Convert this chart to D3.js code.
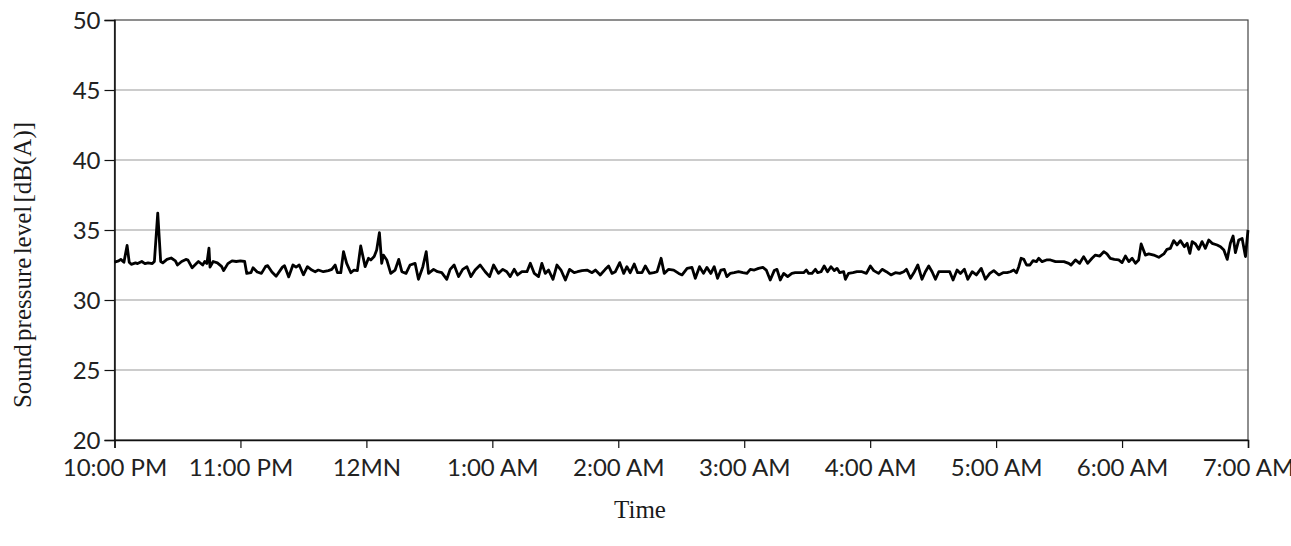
<!DOCTYPE html>
<html>
<head>
<meta charset="utf-8">
<script src="https://cdn.jsdelivr.net/npm/d3@7"></script>
<style>
  body { margin: 0; background: #fff; }
  .tick-label { font-family: Lato, "Open Sans", sans-serif; font-size: 24px; fill: #222; }
  .title { font-family: "Liberation Serif", "Times New Roman", serif; font-size: 25px; fill: #1a1a1a; }
</style>
</head>
<body>
<script>
// minutes after 10:00 PM
const minutes = [0,2,3,4.5,6,7,8,10,11,13,14.5,16,18,19,20.6,22,23,25,27,29,30,32,34,35,37,39,40,42,43,44,45,45.5,47,49,51,52,54,56,58,60,62,63,65,66,68,70,72,73,75,77,80,81,83,85,86.5,88,90,
  91.9,94,95.6,97.1,99.5,101.9,103.5,105.1,106.2,107.8,109.1,110.6,112.6,114.1,115.7,117.3,119.4,121,122.1,123.7,124.9,126.2,127.3,128.1,129.7,131.6,133.7,135.4,136.9,138.9,140.8,143.2,144.8,146.9,148.5,149.6,152,153.9,155.9,158.3,159.9,161.8,163.9,165.9,167.9,169.8,171.8,174.2,176.6,178.7,180.6,182.9,
  185,186.9,188.5,190.4,192,194.1,196.5,198.1,200,202,203.6,205.2,206.8,208.9,210.8,212.7,214.8,216.8,219,220.6,222.7,225.1,227.5,229.1,231.4,233.8,235.4,237,238.6,240.7,242.6,244.1,245.7,247.6,249.2,251.3,252.9,254.9,256.9,258.5,260.4,261.9,264,266.4,268.8,270.4,272.8,
  275.1,276.7,278.7,280.6,282.2,284.1,285.7,287.3,288.9,290.5,291.7,293.3,295.2,297.3,299.4,301.3,302.9,304.8,306.8,308.9,310.5,312.4,314.3,315.6,317.2,318.8,320.7,322.7,324.3,326.4,328.3,329.6,330.7,332.3,333.9,335,336.6,338.1,339.7,341.3,342.9,344.2,345.5,347.4,348.2,349.7,351.8,353.7,356.1,358.2,360.1,361.7,364,
  365.7,367.7,369.9,372,374.1,376,377.3,379.2,381.1,382.7,384.7,386.3,387.9,389.5,391.1,392.7,395.1,397.9,399.5,401.4,403,404.9,406.5,408.6,410.6,412.9,414.9,417,418.9,421.3,423.3,425.2,426.8,428.4,429.7,430.8,431.9,433.2,434.5,436.1,437.6,439.2,440.3,441.9,444,445.9,448.3,449.9,452.3,454.6,
  455.7,457.8,459.8,461.7,463.6,465.7,467.3,469.4,471.3,472.8,474.4,476.3,478.4,480,481.6,483.2,484.8,486.4,487.9,489.1,491.1,492.7,495.1,497.5,499.9,501.4,503,504.6,506.2,507.8,509.7,511,512.3,513.4,515,516.5,518.1,519.7,521.3,522.9,525.3,526.9,528.5,530.1,531.6,532.9,534,535.6,537.2,538.8,540];

// sound pressure level, dB(A)
const spl = [32.7,32.8,32.9,32.7,33.9,32.7,32.55,32.65,32.6,32.75,32.6,32.65,32.6,32.75,36.2,32.75,32.65,32.9,33.0,32.8,32.5,32.75,32.9,32.85,32.3,32.6,32.75,32.5,32.75,32.6,33.7,32.35,32.75,32.65,32.4,32.1,32.6,32.8,32.75,32.8,32.75,31.9,31.95,32.3,32.0,31.9,32.4,32.45,32.0,31.7,32.35,32.45,31.65,32.5,32.35,32.5,31.8,
  32.38,32.14,32.02,32.14,32.02,32.1,32.19,32.5,31.95,31.95,33.45,32.62,31.95,32.14,32.1,33.86,32.38,32.98,32.86,33.1,33.57,34.81,32.62,33.21,32.86,31.9,32.14,32.9,32.02,31.9,32.5,32.62,31.48,32.38,33.45,31.9,32.19,32.02,31.95,31.48,32.19,32.5,31.67,32.19,32.38,31.67,32.14,32.5,32.02,31.67,32.5,31.9,
  32.19,32.02,31.67,32.19,31.79,32.02,32.02,32.62,31.9,31.67,32.62,31.9,32.14,31.48,32.5,32.14,31.43,32.19,31.95,32.02,32.1,32.14,31.95,32.14,31.79,32.19,32.43,31.9,32.02,32.67,31.9,32.38,31.95,32.57,31.95,31.95,32.43,31.9,31.95,32.02,32.98,31.9,32.19,32.14,31.9,31.79,32.26,
  32.33,31.55,32.38,31.9,32.33,31.9,32.38,31.55,32.14,32.19,31.67,31.9,31.95,32.02,31.95,31.9,32.19,32.14,32.26,32.33,32.14,31.43,32.1,32.19,31.43,31.9,31.67,31.9,31.95,31.95,31.95,32.14,31.9,31.9,32.19,31.95,32.02,32.43,32.02,32.38,32.1,32.26,31.95,32.02,31.48,31.9,31.95,32.02,32.02,31.9,32.43,32.1,31.9,
  32.19,32.02,31.79,31.95,31.9,32.02,32.19,31.55,32.02,32.5,31.48,32.02,32.43,32.02,31.48,32.02,32.02,32.02,31.43,32.14,31.9,32.19,31.48,32.02,31.79,32.26,31.48,31.9,32.1,31.79,31.95,31.95,32.02,32.14,31.95,32.38,32.98,32.9,32.5,32.5,32.81,32.74,32.98,32.74,32.86,32.86,32.74,32.74,32.74,32.62,
  32.5,32.86,32.62,33.1,32.62,32.98,33.21,33.14,33.45,33.29,32.98,32.9,32.86,32.67,33.14,32.74,32.98,32.62,32.86,34.0,33.21,33.29,33.21,33.05,33.29,33.62,33.69,34.24,33.93,34.24,33.81,34.05,33.33,34.17,34.0,33.62,34.17,33.69,34.29,34.05,33.93,33.81,33.57,32.9,34.05,34.57,33.38,34.29,34.4,33.1,35.0];

const yTicks = [20, 25, 30, 35, 40, 45, 50];
const xTickMinutes = [0, 60, 120, 180, 240, 300, 360, 420, 480, 540];
const xTickLabels = ["10:00 PM", "11:00 PM", "12MN", "1:00 AM", "2:00 AM", "3:00 AM", "4:00 AM", "5:00 AM", "6:00 AM", "7:00 AM"];

const w = 1291, h = 546;
const plotL = 114.5, plotR = 1248, plotT = 20, plotB = 440;

const svg = d3.select("body").append("svg")
  .attr("width", w)
  .attr("height", h);

const x = d3.scaleLinear().domain([0, 540]).range([plotL, plotR]);
const y = d3.scaleLinear().domain([20, 50]).range([plotB, plotT]);

// gridlines
svg.append("g")
  .selectAll("line")
  .data(yTicks.filter(d => d > 20 && d < 50))
  .enter().append("line")
  .attr("x1", plotL).attr("x2", plotR)
  .attr("y1", d => y(d)).attr("y2", d => y(d))
  .attr("stroke", "#9a9a9a")
  .attr("stroke-width", 1.2);

// plot border
svg.append("rect")
  .attr("x", plotL).attr("y", plotT)
  .attr("width", plotR - plotL).attr("height", plotB - plotT)
  .attr("fill", "none")
  .attr("stroke", "#444")
  .attr("stroke-width", 1.2);

// y axis
const yAxis = svg.append("g")
  .attr("transform", `translate(${plotL},0)`)
  .call(d3.axisLeft(y).tickValues(yTicks).tickSize(10).tickPadding(4));
yAxis.select(".domain").attr("stroke", "#111").attr("stroke-width", 1.5);
yAxis.selectAll(".tick line").attr("stroke", "#111").attr("stroke-width", 1.2);
yAxis.selectAll("text").attr("class", "tick-label").attr("fill", null).attr("dy", "0.36em");

// x axis
const xAxis = svg.append("g")
  .attr("transform", `translate(0,${plotB})`)
  .call(d3.axisBottom(x).tickValues(xTickMinutes).tickSize(8).tickPadding(23)
    .tickFormat((d, i) => xTickLabels[i]));
xAxis.select(".domain").attr("stroke", "#111").attr("stroke-width", 1.5);
xAxis.selectAll(".tick line").attr("stroke", "#111").attr("stroke-width", 1.2);
xAxis.selectAll("text").attr("class", "tick-label").attr("fill", null).attr("dy", "0.2em");
svg.selectAll(".tick text").style("font-family", "Lato, 'Open Sans', sans-serif").style("font-size", "24px");

// the series
const line = d3.line()
  .x((d, i) => x(minutes[i]))
  .y(d => y(d));

svg.append("path")
  .datum(spl)
  .attr("d", line)
  .attr("fill", "none")
  .attr("stroke", "#000")
  .attr("stroke-width", 2.8)
  .attr("stroke-linejoin", "round");

// axis titles
svg.append("text")
  .attr("class", "title")
  .attr("transform", "translate(31,265) rotate(-90)")
  .attr("text-anchor", "middle")
  .attr("word-spacing", "-3")
  .text("Sound pressure level [dB(A)]");

svg.append("text")
  .attr("class", "title")
  .attr("x", 640)
  .attr("y", 518)
  .attr("text-anchor", "middle")
  .text("Time");
</script>
</body>
</html>
